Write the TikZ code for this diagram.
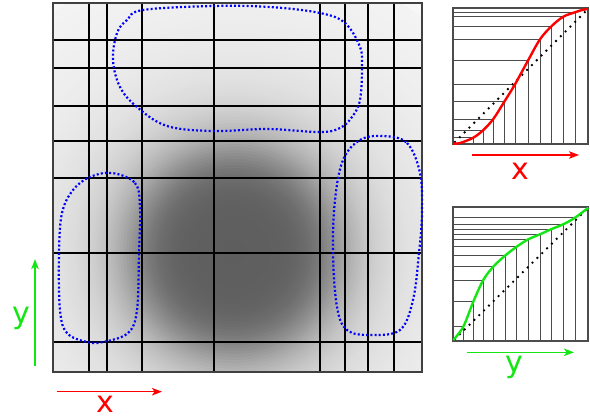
\documentclass[tikz,border=0pt]{standalone}
\usepackage{fontspec}
\setmainfont{DejaVu Sans}
\usetikzlibrary{arrows.meta}
\definecolor{myred}{RGB}{255,0,0}
\definecolor{mygreen}{RGB}{20,230,20}
\definecolor{myblue}{RGB}{0,0,255}
\tikzset{
  gridline/.style={line width=1.8pt, black},
  frameline/.style={line width=1.4pt, black!75},
  region/.style={myblue, line width=2.2pt, dash pattern=on 2pt off 2.2pt},
  plotframe/.style={line width=1.1pt, black!70},
  stairline/.style={line width=0.9pt, black!70},
  diag/.style={black, line width=2.6pt, line cap=round, dash pattern=on 0pt off 6.8pt},
  axisarrow/.style={line width=1.5pt, -{Stealth[length=10pt,width=7.5pt,inset=2.5pt]}},
  lbl/.style={font=\fontsize{30}{30}\selectfont, inner sep=0pt}
}
\begin{document}
\begin{tikzpicture}[x=1pt,y=-1pt]
\useasboundingbox (0,0) rectangle (590,418);
% main image with gaussian blob
\begin{scope}
  \clip (53,3) rectangle (422,372);
  \fill[black!3] (53,3) rectangle (422,372);
  \foreach \r in {300,297,...,3}{
    \pgfmathsetmacro\cv{3+48/(1+(\r/110)^6)+12*exp(-(\r/210)^2)}
    \fill[black!\cv] (234,252) circle[radius=\r pt];
  }
\end{scope}
% grid
\foreach \gx in {89,106.7,141.7,214.3,320,345.3,367.7,393.7}
  \draw[gridline] (\gx,3) -- (\gx,372);
\foreach \gy in {40,68.3,105.7,140.7,178.3,253,342.3}
  \draw[gridline] (53,\gy) -- (422,\gy);
\draw[frameline] (53,3) rectangle (422,372);
% blue regions
\draw[region] plot[smooth cycle, tension=0.6] coordinates {
  (143,10) (213,6) (270,7) (320,13) (345,23) (360,47) (362,67) (360,100)
  (352,117) (340,128) (320,132) (267,129) (213,131) (167,126) (137,107)
  (120,87) (113,60) (117,33) (127,20)};
\draw[region] plot[smooth cycle, tension=0.6] coordinates {
  (112,173) (135,183) (140,207) (139,253) (137,310) (128,333) (103,342)
  (87,342) (67,333) (60,310) (59,253) (62,213) (73,190) (90,177)};
\draw[region] plot[smooth cycle, tension=0.6] coordinates {
  (383,136) (407,143) (420,173) (422,213) (419,253) (413,300) (400,330)
  (370,335) (347,330) (337,307) (333,253) (335,200) (343,160) (360,140)};
% main axes
\coordinate (mxs) at (56.7,391.7);
\coordinate (mxe) at (162,391.7);
\coordinate (mys) at (35,366);
\coordinate (mye) at (35,259);
\draw[axisarrow, myred] (mxs) -- (mxe);
\draw[axisarrow, mygreen] (mys) -- (mye);
\node[lbl, myred] (mxl) at (105,404) {x};
\node[lbl, mygreen] (myl) at (21,318.5) {y};
% ---- small plot x (red) ----
\foreach \px/\py in {473.3/137.7,483.3/130,493.3/119,504.3/101.7,515/84.3,528.3/60,540/39.3,551.7/26,563.3/16.7,575/12.3}
  \draw[stairline] (453,\py) -- (\px,\py) -- (\px,144);
\draw[plotframe] (453,8) rectangle (588,144);
\draw[diag] (455,142) -- (588,9);
\draw[myred, line width=2.4pt] plot[smooth, tension=0.55] coordinates {
  (453,143.6) (460,143) (473.3,137.7) (483.3,130) (493.3,119) (504.3,101.7)
  (515,84.3) (528.3,60) (540,39.3) (551.7,26) (563.3,16.7) (575,12.3) (582,10) (588,9)};
\coordinate (sxs) at (471.7,155);
\coordinate (sxe) at (579,155);
\draw[axisarrow, myred] (sxs) -- (sxe);
\node[lbl, myred] (sxl) at (520,171) {x};
% ---- small plot y (green) ----
\foreach \px/\py in {463.3/326.7,473.3/301.7,483.3/280,493.3/266.7,505/255.7,516.7/246.7,528.3/239.3,540/234.3,551.7/229,563.3/224.3,575/217.7}
  \draw[stairline] (453,\py) -- (\px,\py) -- (\px,341);
\draw[plotframe] (453,207) rectangle (588,341);
\draw[diag] (455,339) -- (588,208);
\draw[mygreen, line width=2.4pt] plot[smooth, tension=0.55] coordinates {
  (453.3,340) (463.3,326.7) (473.3,301.7) (483.3,280) (493.3,266.7) (505,255.7)
  (516.7,246.7) (528.3,239.3) (540,234.3) (551.7,229) (563.3,224.3) (575,217.7) (588.3,207.7)};
\coordinate (sys) at (466.7,352.3);
\coordinate (sye) at (574,352.3);
\draw[axisarrow, mygreen] (sys) -- (sye);
\node[lbl, mygreen] (syl) at (514,367.5) {y};
\end{tikzpicture}
\end{document}
